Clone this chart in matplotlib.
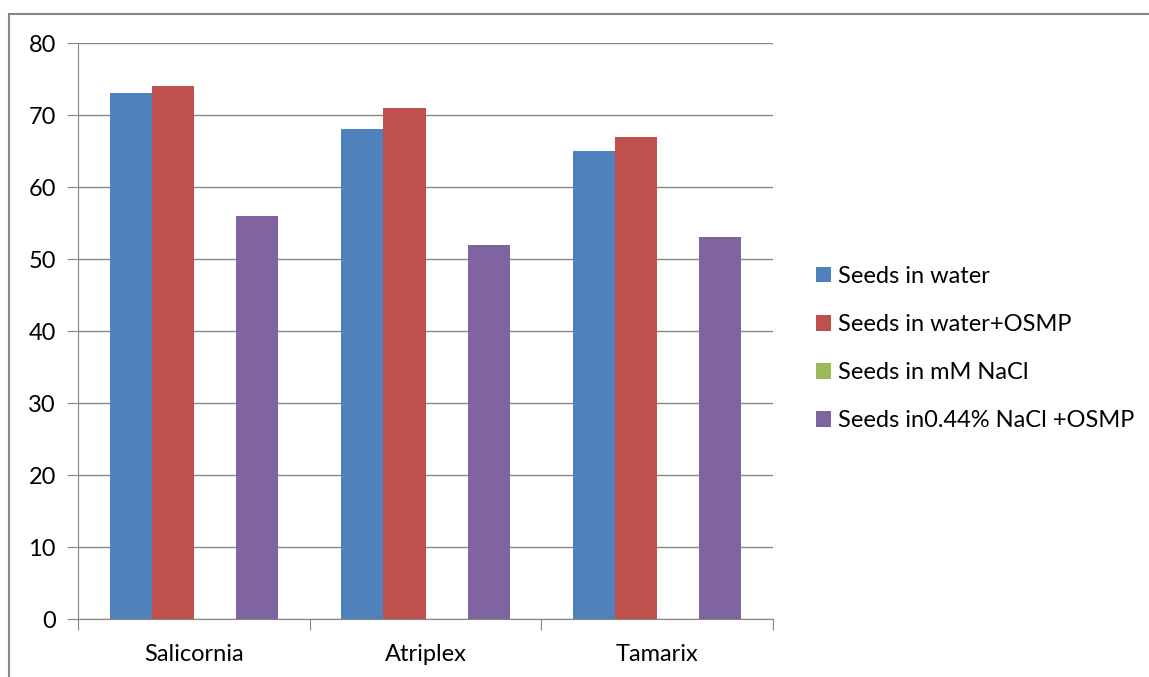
import matplotlib.pyplot as plt
import matplotlib.patches as mpatches
import numpy as np

plants = ["Salicornia", "Atriplex", "Tamarix"]
series = ["Seeds in water", "Seeds in water+OSMP", "Seeds in mM NaCl", "Seeds in0.44% NaCl +OSMP"]
water = [73, 68, 65]
water_osmp = [74, 71, 67]
nacl = [0, 0, 0]
nacl_osmp = [56, 52, 53]
colors = ["#4F81BD", "#C0504D", "#9BBB59", "#8064A2"]

plt.rcParams['font.family'] = ['Lato', 'DejaVu Sans']

fig = plt.figure(figsize=(11.49, 6.77), dpi=100)
ax = fig.add_axes([78/1149, 1-619/677, (773-78)/1149, (619-43)/677])

# outer chart frame (runs off right and bottom like the screenshot)
fig.patches.append(mpatches.Rectangle((9/1149, -0.2), 1.2, 1.2 - 14/677, transform=fig.transFigure,
                                      fill=False, edgecolor="#868686", lw=1.5, zorder=0))

x = np.arange(len(plants))
w = 1/5.5
vals = [water, water_osmp, nacl, nacl_osmp]
for i, v in enumerate(vals):
    ax.bar(x + (i - 1.5)*w, v, w, color=colors[i], label=series[i], zorder=3)

ax.set_xlim(-0.5, 2.5)
ax.set_ylim(0, 80)
ax.set_yticks(range(0, 81, 10))
ax.yaxis.grid(True, color="#868686", lw=1)
ax.set_axisbelow(True)

ax.set_xticks([-0.5, 0.5, 1.5, 2.5])
ax.set_xticklabels([])
ax.set_xticks(x, minor=True)
ax.set_xticklabels(plants, minor=True)
ax.tick_params(axis='x', which='major', length=8, color="#868686", direction='out')
ax.tick_params(axis='x', which='minor', length=0, pad=18, labelsize=17)
ax.tick_params(axis='y', length=8, color="#868686", labelsize=17, pad=8)

for s in ['top', 'right']:
    ax.spines[s].set_visible(False)
ax.spines['left'].set_color("#868686")
ax.spines['bottom'].set_color("#868686")

fig.legend(loc='center left', bbox_to_anchor=(816/1149, 1-348.5/677), frameon=False,
           fontsize=17, labelspacing=1.15, handlelength=0.65, handleheight=0.65,
           handletextpad=0.3, borderpad=0, borderaxespad=0)

fig.savefig("out.png", dpi=100)
